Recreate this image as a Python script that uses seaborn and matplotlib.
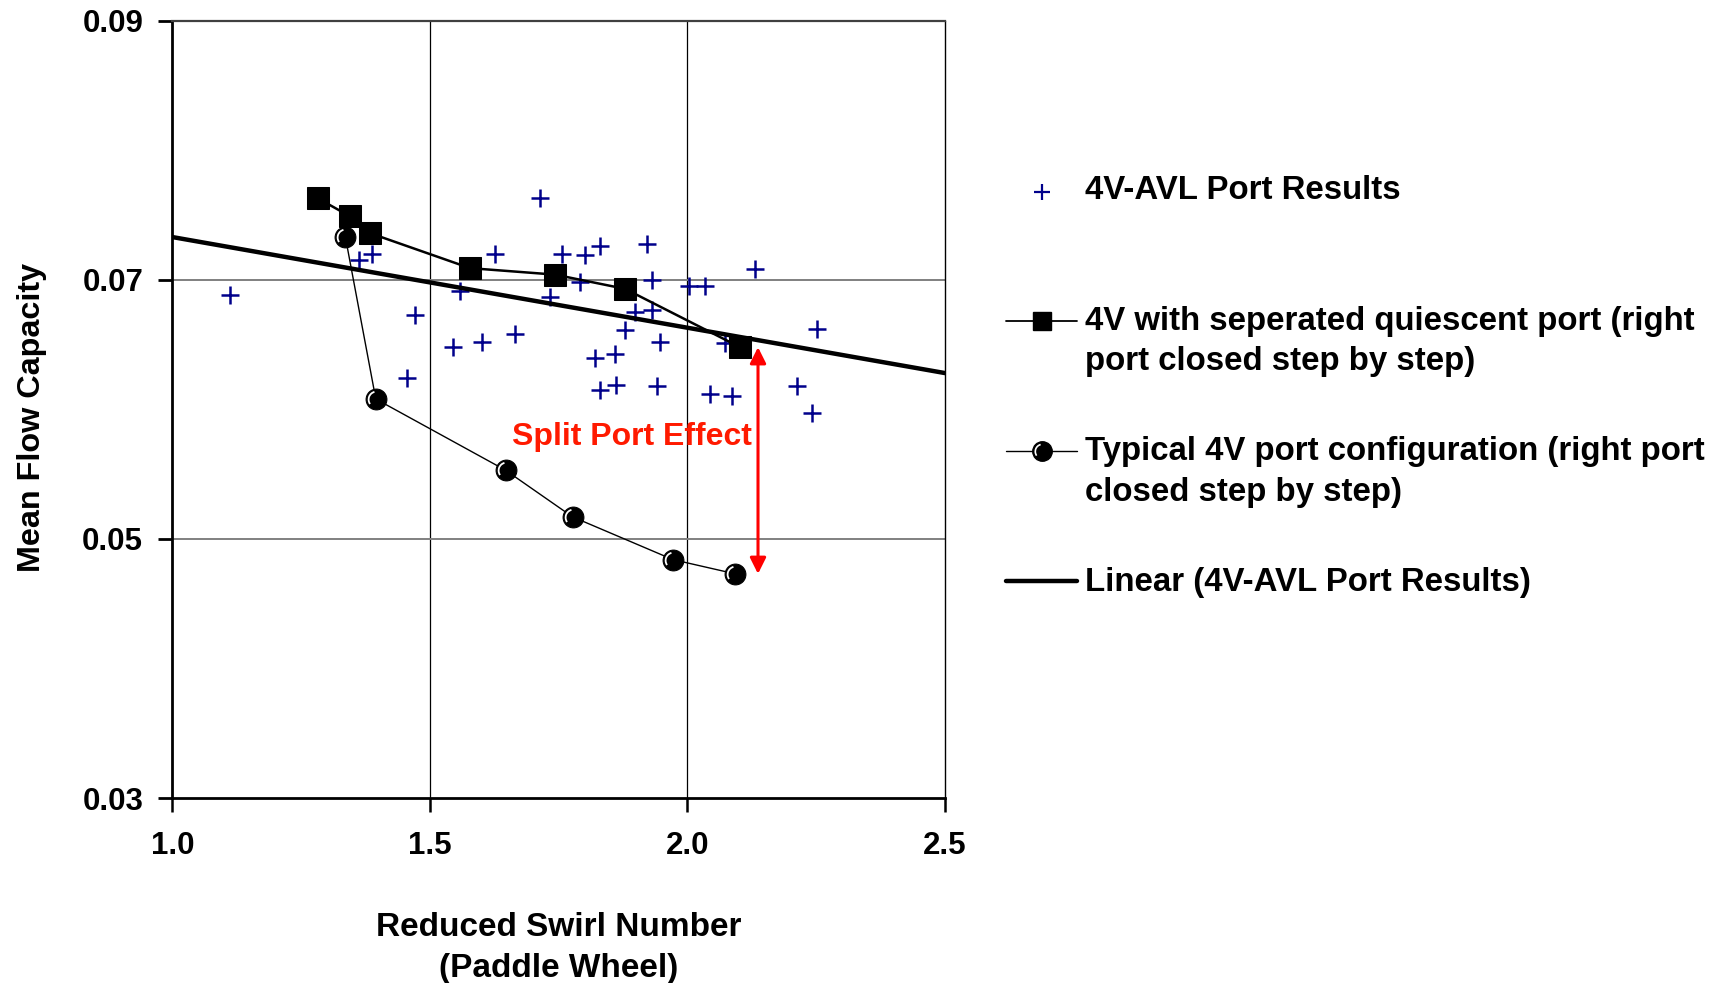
import numpy as np
import pandas as pd
import matplotlib
matplotlib.use("Agg")
import matplotlib.pyplot as plt
from matplotlib.lines import Line2D
from matplotlib.path import Path
import seaborn as sns

# 4V-AVL port results: reduced swirl number vs. mean flow capacity
avl_swirl = [1.112, 1.362, 1.388, 1.456, 1.471, 1.544, 1.558, 1.602, 1.626,
             1.665, 1.714, 1.733, 1.757, 1.791, 1.801, 1.820, 1.830, 1.830,
             1.859, 1.861, 1.878, 1.898, 1.922, 1.932, 1.932, 1.941, 1.946,
             2.003, 2.034, 2.044, 2.073, 2.087, 2.131, 2.213, 2.242, 2.252]
avl_flow = [0.0688, 0.0715, 0.0720, 0.0624, 0.0673, 0.0648, 0.0691, 0.0652, 0.0720,
            0.0658, 0.0763, 0.0687, 0.0720, 0.0698, 0.0719, 0.0640, 0.0726, 0.0615,
            0.0643, 0.0619, 0.0661, 0.0675, 0.0728, 0.0700, 0.0677, 0.0618, 0.0652,
            0.0695, 0.0695, 0.0612, 0.0651, 0.0610, 0.0708, 0.0618, 0.0597, 0.0662]

# 4V with separated quiescent port (right port closed step by step)
sep_swirl = [1.282, 1.345, 1.384, 1.578, 1.743, 1.879, 2.102]
sep_flow = [0.0763, 0.0749, 0.0736, 0.0709, 0.0704, 0.0693, 0.0648]

# Typical 4V port configuration (right port closed step by step)
typ_swirl = [1.336, 1.395, 1.647, 1.777, 1.972, 2.093]
typ_flow = [0.0733, 0.0608, 0.0553, 0.0517, 0.0484, 0.0473]

# Linear trend of the 4V-AVL results, evaluated at the axis ends
trend_swirl = [1.0, 2.5]
trend_flow = [0.0733, 0.0628]

x_ticks = [1.0, 1.5, 2.0, 2.5]
y_ticks = [0.03, 0.05, 0.07, 0.09]
x_tick_labels = ["1.0", "1.5", "2.0", "2.5"]
y_tick_labels = ["0.03", "0.05", "0.07", "0.09"]

legend_labels = [
    ["4V-AVL Port Results"],
    ["4V with seperated quiescent port (right", "port closed step by step)"],
    ["Typical 4V port configuration (right port", "closed step by step)"],
    ["Linear (4V-AVL Port Results)"],
]
effect_label = "Split Port Effect"

avl = pd.DataFrame({"swirl": avl_swirl, "flow": avl_flow})
sep = pd.DataFrame({"swirl": sep_swirl, "flow": sep_flow})
typ = pd.DataFrame({"swirl": typ_swirl, "flow": typ_flow})
trend = pd.DataFrame({"swirl": trend_swirl, "flow": trend_flow})

sns.set_style("white")
plt.rcParams["font.family"] = ["Liberation Sans", "DejaVu Sans"]
plt.rcParams["font.weight"] = "bold"
plt.rcParams["text.color"] = "black"
plt.rcParams["axes.labelcolor"] = "black"
plt.rcParams["xtick.color"] = "black"
plt.rcParams["ytick.color"] = "black"

W, H = 1728, 983
fig = plt.figure(figsize=(W / 100, H / 100), dpi=100)
ax_left, ax_right, ax_top, ax_bottom = 172.3, 945.0, 20.7, 798.0
ax = fig.add_axes([ax_left / W, 1 - ax_bottom / H,
                   (ax_right - ax_left) / W, (ax_bottom - ax_top) / H])

ax.set_xlim(1.0, 2.5)
ax.set_ylim(0.03, 0.09)

NAVY = "#00008B"

# gridlines
for xv in x_ticks[1:-1]:
    ax.axvline(xv, color="black", lw=0.9, zorder=0)
for yv in y_ticks[1:-1]:
    ax.axhline(yv, color="#808080", lw=1.4, zorder=0)

# scatter of port results
sns.scatterplot(data=avl, x="swirl", y="flow", ax=ax, marker="+", s=170,
                color=NAVY, linewidth=1.8, zorder=3, legend=False)

# separated quiescent port series
sns.lineplot(data=sep, x="swirl", y="flow", ax=ax, color="black", lw=1.8,
             marker="s", markersize=15.5, markeredgecolor="black",
             markerfacecolor="black", sort=False, zorder=4, legend=False)

# typical 4V series
sns.lineplot(data=typ, x="swirl", y="flow", ax=ax, color="black", lw=1.0,
             marker="o", markersize=15, markeredgecolor="black",
             markerfacecolor="black", sort=False, zorder=4, legend=False)
highlight = Path.arc(105, 215)
ax.plot(typ["swirl"], typ["flow"], ls="none", marker=highlight, markersize=11.5,
        markeredgecolor="white", markeredgewidth=1.3, fillstyle="none", zorder=5)

# linear trend line
sns.lineplot(data=trend, x="swirl", y="flow", ax=ax, color="black", lw=3.2,
             zorder=6, legend=False)

# split port effect arrow and label
arrow_x = 2.137
ax.annotate("", xy=(arrow_x, typ_flow[-1]), xytext=(arrow_x, sep_flow[-1]),
            arrowprops=dict(arrowstyle="<|-|>", color="red", lw=2.2,
                            mutation_scale=24, shrinkA=0, shrinkB=0), zorder=7)
ax.text(arrow_x - 0.011, 0.0579, effect_label, color="#FF1A00", fontsize=23,
        fontweight="bold", ha="right", va="center", zorder=7)

ax.set_xlim(1.0, 2.5)
ax.set_ylim(0.03, 0.09)
ax.set_xticks(x_ticks)
ax.set_xticklabels(x_tick_labels)
ax.set_yticks(y_ticks)
ax.set_yticklabels(y_tick_labels)
ax.tick_params(axis="y", direction="out", length=10, width=2.0, pad=11,
               labelsize=22.5, left=True, colors="black")
ax.tick_params(axis="x", direction="out", length=10, width=1.8, pad=14,
               labelsize=22.5, bottom=True, colors="black")
for lab in ax.get_xticklabels() + ax.get_yticklabels():
    lab.set_fontweight("bold")

for side in ["left", "bottom"]:
    ax.spines[side].set_color("black")
    ax.spines[side].set_linewidth(2.0)
ax.spines["right"].set_color("black")
ax.spines["right"].set_linewidth(1.0)
ax.spines["top"].set_color("#404040")
ax.spines["top"].set_linewidth(1.6)

ax.set_xlabel("Reduced Swirl Number\n(Paddle Wheel)", fontsize=24,
              fontweight="bold", linespacing=1.45, va="center", color="black")
ax.xaxis.set_label_coords(0.5, -(948 - ax_bottom) / (ax_bottom - ax_top))
ax.set_ylabel("Mean Flow Capacity", fontsize=23.3, fontweight="bold",
              va="center", color="black")
ax.yaxis.set_label_coords((32 - ax_left) / (ax_right - ax_left),
                          (ax_bottom - 417) / (ax_bottom - ax_top))


def fx(p):
    return p / W


def fy(p):
    return 1 - p / H


# legend keys and entries
key_x0, key_x1, key_xc, text_x = 1006, 1077, 1042, 1085
fig.add_artist(Line2D([fx(key_xc)], [fy(192)], transform=fig.transFigure,
                      ls="none", marker="+", ms=12, mew=1.6, color=NAVY))
fig.add_artist(Line2D([fx(key_x0), fx(key_x1)], [fy(321), fy(321)],
                      transform=fig.transFigure, color="black", lw=1.3))
fig.add_artist(Line2D([fx(key_xc)], [fy(321)], transform=fig.transFigure,
                      ls="none", marker="s", ms=13, color="black"))
fig.add_artist(Line2D([fx(key_x0), fx(key_x1)], [fy(451), fy(451)],
                      transform=fig.transFigure, color="black", lw=1.0))
fig.add_artist(Line2D([fx(key_xc)], [fy(451)], transform=fig.transFigure,
                      ls="none", marker="o", ms=14, color="black"))
fig.add_artist(Line2D([fx(key_xc)], [fy(451)], transform=fig.transFigure,
                      ls="none", marker=highlight, ms=10.5, mec="white",
                      mew=1.2, fillstyle="none"))
fig.add_artist(Line2D([fx(key_x0), fx(key_x1)], [fy(581), fy(581)],
                      transform=fig.transFigure, color="black", lw=3.2))

baselines = [[199], [330, 370], [460, 501], [591]]
for lines, bases in zip(legend_labels, baselines):
    for txt, b in zip(lines, bases):
        fig.text(fx(text_x), fy(b), txt, fontsize=23.8, fontweight="bold",
                 ha="left", va="baseline", color="black")

fig.savefig("out.png", dpi=100, facecolor="white")
